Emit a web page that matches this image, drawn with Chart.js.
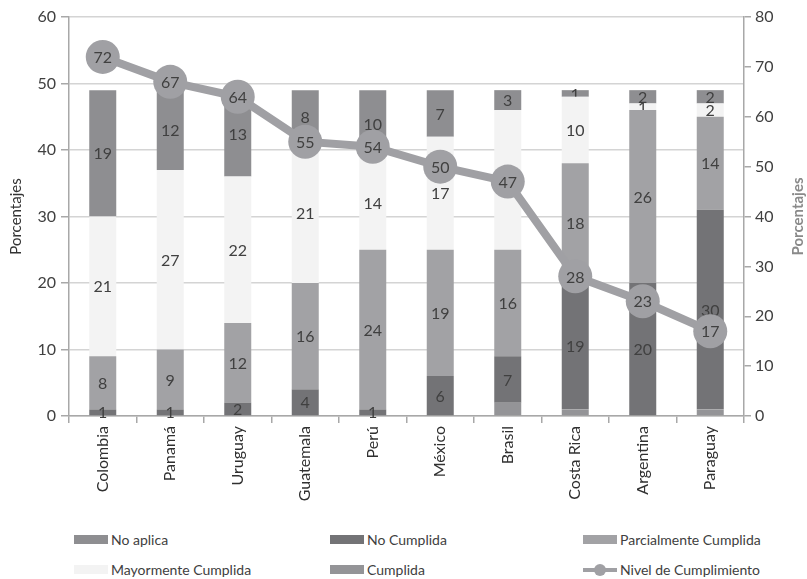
<!DOCTYPE html>
<html>
<head>
<meta charset="utf-8">
<script src="https://cdn.jsdelivr.net/npm/chart.js@4"></script>
<style>
  body { margin: 0; background: #fff; font-family: Lato, sans-serif; }
  #wrap { position: relative; width: 807px; height: 579px; }
  #grafico { position: absolute; left: 0; top: 0; }
  .item { position: absolute; font-size: 14px; color: #404040; height: 16px; line-height: 16px; white-space: nowrap; }
  .caja { display: inline-block; width: 34px; height: 9px; margin-right: 3px; vertical-align: 1px; }
  .linea { display: inline-block; position: relative; width: 34px; height: 16px; margin-right: 3px; vertical-align: -3px; }
  .linea::before { content: ""; position: absolute; left: 0; right: 0; top: 6px; height: 4px; background: #a0a0a4; }
  .linea::after { content: ""; position: absolute; left: 11px; top: 2px; width: 12px; height: 12px; border-radius: 50%; background: #a0a0a4; }
</style>
</head>
<body>
<div id="wrap">
  <canvas id="grafico" width="807" height="520"></canvas>
  <div id="leyenda"></div>
</div>
<script>
const paises = ["Colombia", "Panamá", "Uruguay", "Guatemala", "Perú", "México", "Brasil", "Costa Rica", "Argentina", "Paraguay"];
const cumplida = [0, 0, 0, 0, 0, 0, 2, 1, 0, 1];
const noCumplida = [1, 1, 2, 4, 1, 6, 7, 19, 20, 30];
const parcialmente = [8, 9, 12, 16, 24, 19, 16, 18, 26, 14];
const mayormente = [21, 27, 22, 21, 14, 17, 21, 10, 1, 2];
const noAplica = [19, 12, 13, 8, 10, 7, 3, 1, 2, 2];
const nivel = [72, 67, 64, 55, 54, 50, 47, 28, 23, 17];

const colores = {
  cumplida: "#949497",
  noCumplida: "#737376",
  parcialmente: "#a2a2a5",
  mayormente: "#f3f3f3",
  noAplica: "#8e8e91",
  nivel: "#a0a0a4"
};

const fuente = "Lato, sans-serif";
const textoColor = "#404040";

// etiquetas dentro de las barras y en los círculos
const etiquetas = {
  id: "etiquetas",
  afterDatasetDraw(chart, args) {
    const ds = chart.data.datasets[args.index];
    if (ds.sinEtiqueta) return;
    const ctx = chart.ctx;
    ctx.save();
    ctx.font = "16px " + fuente;
    ctx.fillStyle = textoColor;
    ctx.textAlign = "center";
    ctx.textBaseline = "middle";
    args.meta.data.forEach((el, i) => {
      const v = ds.data[i];
      if (!v) return;
      const y = ds.type === "line" ? el.y : (el.y + el.base) / 2;
      ctx.fillText(String(v), el.x, y + 1);
    });
    ctx.restore();
  }
};

// título del eje derecho (leído de abajo hacia arriba)
const tituloDerecho = {
  id: "tituloDerecho",
  afterDraw(chart) {
    const ctx = chart.ctx;
    const a = chart.chartArea;
    ctx.save();
    ctx.translate(798, (a.top + a.bottom) / 2);
    ctx.rotate(-Math.PI / 2);
    ctx.font = "bold 15px " + fuente;
    ctx.fillStyle = "#8a8a8a";
    ctx.textAlign = "center";
    ctx.textBaseline = "middle";
    ctx.fillText("Porcentajes", 0, 0);
    ctx.restore();
  }
};

const barra = (label, data, color, extra) => Object.assign({
  type: "bar", label, data, backgroundColor: color, borderWidth: 0,
  stack: "s", yAxisID: "y", order: 2, barPercentage: 0.4, categoryPercentage: 1
}, extra || {});

new Chart(document.getElementById("grafico"), {
  data: {
    labels: paises,
    datasets: [
      barra("Cumplida", cumplida, colores.cumplida, { sinEtiqueta: true }),
      barra("No Cumplida", noCumplida, colores.noCumplida),
      barra("Parcialmente Cumplida", parcialmente, colores.parcialmente),
      barra("Mayormente Cumplida", mayormente, colores.mayormente),
      barra("No aplica", noAplica, colores.noAplica),
      {
        type: "line", label: "Nivel de Cumplimiento", data: nivel, yAxisID: "y1", order: 1,
        borderColor: colores.nivel, backgroundColor: colores.nivel, borderWidth: 8,
        pointRadius: 17, pointHoverRadius: 17, pointBorderWidth: 0, pointBackgroundColor: colores.nivel
      }
    ]
  },
  options: {
    responsive: false,
    animation: false,
    layout: { padding: { top: 16, left: 0, right: 0, bottom: 0 } },
    plugins: { legend: { display: false }, tooltip: { enabled: false } },
    scales: {
      x: {
        stacked: true,
        grid: { drawOnChartArea: false, drawTicks: true, tickLength: 7, color: "#a8a8a8", lineWidth: 1.5 },
        border: { color: "#a8a8a8", width: 1.5 },
        ticks: { minRotation: 90, maxRotation: 90, color: "#303030", font: { family: fuente, size: 16 }, padding: 3 },
        afterFit(s) { s.height = 104; }
      },
      y: {
        stacked: true, position: "left", min: 0, max: 60,
        grid: { color: "#d4d4d4", lineWidth: 1.5, tickLength: 8, tickColor: "#a8a8a8" },
        border: { color: "#a8a8a8", width: 1.5 },
        ticks: { stepSize: 10, color: "#404040", font: { family: fuente, size: 16 }, padding: 5 },
        title: { display: true, text: "Porcentajes", color: "#333", font: { family: fuente, size: 15 }, padding: { top: 7, bottom: 0 } },
        afterFit(s) { s.width = 69; }
      },
      y1: {
        position: "right", min: 0, max: 80,
        grid: { drawOnChartArea: false, tickLength: 7, color: "#a8a8a8", lineWidth: 1.5 },
        border: { color: "#a8a8a8", width: 1.5 },
        ticks: { stepSize: 10, color: "#404040", font: { family: fuente, size: 16 }, padding: 4 },
        afterFit(s) { s.width = 63; }
      }
    }
  },
  plugins: [etiquetas, tituloDerecho]
});

// leyenda
const leyenda = [
  ["No aplica", colores.noAplica, 74, 540],
  ["No Cumplida", colores.noCumplida, 330, 540],
  ["Parcialmente Cumplida", colores.parcialmente, 583, 540],
  ["Mayormente Cumplida", colores.mayormente, 74, 570],
  ["Cumplida", colores.cumplida, 330, 570],
  ["Nivel de Cumplimiento", null, 583, 570]
];
const cont = document.getElementById("leyenda");
leyenda.forEach(([txt, color, x, y]) => {
  const d = document.createElement("div");
  d.className = "item";
  d.style.left = x + "px";
  d.style.top = (y - 8) + "px";
  d.innerHTML = color
    ? `<span class="caja" style="background:${color}"></span>${txt}`
    : `<span class="linea"></span>${txt}`;
  cont.appendChild(d);
});
</script>
</body>
</html>
